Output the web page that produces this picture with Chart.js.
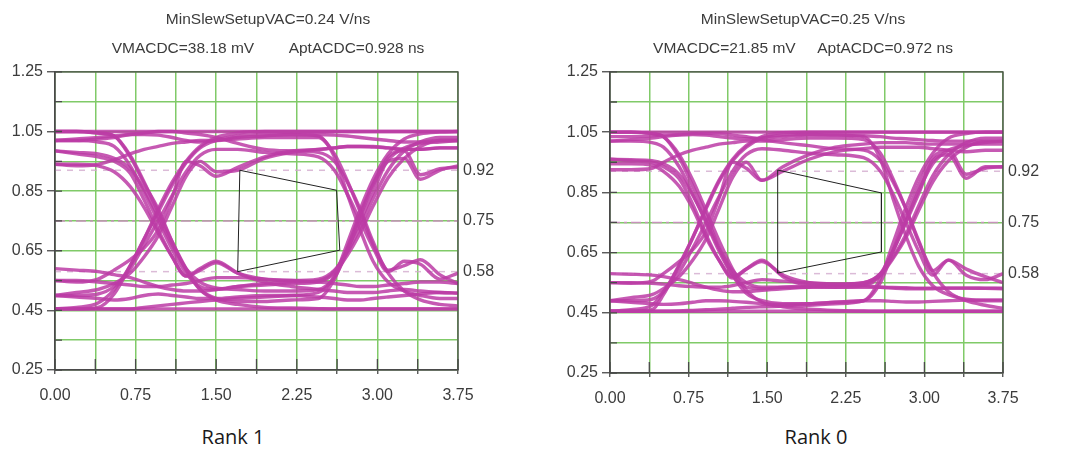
<!DOCTYPE html>
<html>
<head>
<meta charset="utf-8">
<script src="https://cdn.jsdelivr.net/npm/chart.js@4/dist/chart.umd.min.js"></script>
<style>
  body { margin: 0; background: #fff; width: 1065px; height: 449px; overflow: hidden; position: relative; }
  canvas { position: absolute; top: 0; }
  .rank { position: absolute; top: 427px; width: 200px; text-align: center;
          font: 20px/20px "Open Sans", sans-serif; color: #1a1a1a; }
</style>
</head>
<body>
<canvas id="rank1" width="536" height="405" style="left:0"></canvas>
<canvas id="rank0" width="496" height="408" style="left:555px"></canvas>
<div class="rank" style="left:133px">Rank 1</div>
<div class="rank" style="left:716px">Rank 0</div>
<script>
// tick positions
const xTicks = [0, 0.375, 0.75, 1.125, 1.5, 1.875, 2.25, 2.625, 3, 3.375, 3.75];
const yTicks = [0.25, 0.35, 0.45, 0.55, 0.65, 0.75, 0.85, 0.95, 1.05, 1.15, 1.25];
const levelTicks = [0.58, 0.75, 0.92];

// time samples (ns) of every trace, one list per plot
const xsRank1 = [0, 0.2, 0.4, 0.55, 0.7, 0.83, 0.96, 1.09, 1.22, 1.35, 1.5, 1.7, 1.95, 2.2, 2.45, 2.6, 2.72, 2.84, 2.96, 3.1, 3.25, 3.4, 3.58, 3.75];
const xsRank0 = [0, 0.2, 0.4, 0.51, 0.66, 0.79, 0.916, 1.04, 1.17, 1.3, 1.45, 1.65, 1.9, 2.15, 2.42, 2.58, 2.7, 2.824, 2.945, 3.08, 3.23, 3.4, 3.58, 3.75];

// voltage traces (V)
const rank1Traces = [
  [1.05, 1.05, 1.05, 1.05, 1.05, 1.05, 1.05, 1.05, 1.05, 1.05, 1.05, 1.05, 1.05, 1.05, 1.05, 1.05, 1.05, 1.05, 1.05, 1.05, 1.05, 1.05, 1.05, 1.05],
  [0.455, 0.455, 0.455, 0.455, 0.455, 0.455, 0.455, 0.455, 0.455, 0.455, 0.455, 0.455, 0.455, 0.455, 0.455, 0.455, 0.455, 0.455, 0.455, 0.455, 0.455, 0.455, 0.455, 0.455],
  [1.02, 1.025, 1.03, 1.035, 1.04, 1.04, 1.038, 1.03, 1.02, 1.015, 1.02, 1.03, 1.035, 1.04, 1.04, 1.038, 1.035, 1.03, 1.025, 1.02, 1.015, 1.015, 1.02, 1.02],
  [0.50, 0.495, 0.49, 0.485, 0.49, 0.50, 0.505, 0.50, 0.495, 0.49, 0.49, 0.495, 0.50, 0.50, 0.495, 0.49, 0.485, 0.485, 0.49, 0.495, 0.50, 0.505, 0.51, 0.508],
  [0.455, 0.455, 0.46, 0.505, 0.60, 0.69, 0.79, 0.88, 0.95, 1.0, 1.03, 1.045, 1.05, 1.05, 1.05, 1.05, 1.05, 1.05, 1.05, 1.05, 1.05, 1.05, 1.05, 1.05],
  [0.55, 0.545, 0.555, 0.585, 0.62, 0.66, 0.72, 0.83, 0.95, 0.935, 0.90, 0.93, 0.965, 0.985, 0.99, 0.995, 1.0, 1.0, 0.998, 0.995, 0.99, 0.99, 0.995, 0.995],
  [0.50, 0.50, 0.505, 0.53, 0.59, 0.67, 0.75, 0.835, 0.915, 0.97, 0.99, 0.99, 0.98, 0.975, 0.965, 0.92, 0.84, 0.75, 0.66, 0.58, 0.615, 0.605, 0.555, 0.575],
  [0.985, 0.975, 0.965, 0.95, 0.91, 0.82, 0.72, 0.63, 0.565, 0.59, 0.615, 0.575, 0.545, 0.53, 0.52, 0.515, 0.51, 0.51, 0.51, 0.515, 0.52, 0.515, 0.51, 0.508],
  [1.05, 1.05, 1.045, 1.035, 0.97, 0.88, 0.78, 0.68, 0.59, 0.52, 0.485, 0.47, 0.46, 0.458, 0.456, 0.455, 0.455, 0.455, 0.455, 0.455, 0.455, 0.455, 0.455, 0.455],
  [1.02, 1.02, 1.015, 1.0, 0.935, 0.845, 0.75, 0.655, 0.575, 0.53, 0.52, 0.53, 0.54, 0.545, 0.55, 0.58, 0.655, 0.75, 0.845, 0.95, 0.96, 0.89, 0.92, 0.935],
  [0.94, 0.935, 0.94, 0.955, 0.975, 0.99, 1.0, 1.01, 1.015, 1.02, 1.02, 1.025, 1.03, 1.03, 1.03, 0.975, 0.885, 0.78, 0.67, 0.575, 0.515, 0.485, 0.47, 0.465],
  [0.59, 0.585, 0.58, 0.57, 0.56, 0.545, 0.53, 0.52, 0.515, 0.515, 0.52, 0.53, 0.535, 0.54, 0.545, 0.575, 0.635, 0.71, 0.80, 0.895, 0.96, 1.0, 1.02, 1.02],
  [0.50, 0.51, 0.52, 0.54, 0.575, 0.63, 0.70, 0.80, 0.90, 0.95, 0.915, 0.92, 0.96, 0.98, 0.99, 0.995, 1.0, 1.0, 1.0, 0.995, 0.99, 0.99, 0.995, 0.995],
  [0.455, 0.455, 0.455, 0.455, 0.455, 0.46, 0.465, 0.47, 0.475, 0.48, 0.485, 0.49, 0.495, 0.50, 0.51, 0.565, 0.675, 0.79, 0.89, 0.975, 1.025, 1.042, 1.048, 1.05],
  [0.94, 0.94, 0.935, 0.915, 0.865, 0.795, 0.71, 0.63, 0.565, 0.585, 0.61, 0.575, 0.555, 0.55, 0.555, 0.585, 0.645, 0.73, 0.825, 0.92, 0.985, 1.015, 1.03, 1.03],
  [0.455, 0.46, 0.475, 0.52, 0.60, 0.69, 0.78, 0.87, 0.945, 0.995, 1.02, 1.035, 1.04, 1.04, 1.035, 0.965, 0.84, 0.72, 0.615, 0.545, 0.515, 0.50, 0.49, 0.49],
  [1.02, 1.02, 1.025, 1.03, 1.04, 1.045, 1.05, 1.05, 1.045, 1.04, 1.03, 1.01, 0.99, 0.985, 0.98, 0.95, 0.88, 0.79, 0.68, 0.585, 0.60, 0.62, 0.57, 0.54],
  [0.55, 0.55, 0.545, 0.54, 0.535, 0.53, 0.53, 0.535, 0.54, 0.55, 0.56, 0.56, 0.555, 0.55, 0.545, 0.54, 0.535, 0.53, 0.53, 0.535, 0.54, 0.545, 0.545, 0.54],
  [1.05, 1.05, 1.045, 1.035, 0.965, 0.875, 0.79, 0.68, 0.585, 0.52, 0.49, 0.48, 0.48, 0.485, 0.49, 0.555, 0.66, 0.775, 0.875, 0.965, 0.985, 0.905, 0.925, 0.93],
  [0.985, 0.98, 0.975, 0.96, 0.925, 0.855, 0.765, 0.67, 0.59, 0.545, 0.525, 0.52, 0.515, 0.515, 0.52, 0.56, 0.65, 0.765, 0.87, 0.955, 0.995, 1.01, 1.015, 1.02]
];

const rank0Traces = [
  [1.05, 1.05, 1.05, 1.05, 1.05, 1.05, 1.05, 1.05, 1.05, 1.05, 1.05, 1.05, 1.05, 1.05, 1.05, 1.05, 1.05, 1.05, 1.05, 1.05, 1.05, 1.05, 1.05, 1.05],
  [0.455, 0.455, 0.455, 0.455, 0.455, 0.455, 0.455, 0.455, 0.455, 0.455, 0.455, 0.455, 0.455, 0.455, 0.455, 0.455, 0.455, 0.455, 0.455, 0.455, 0.455, 0.455, 0.455, 0.455],
  [1.02, 1.025, 1.03, 1.035, 1.04, 1.042, 1.04, 1.035, 1.03, 1.028, 1.03, 1.035, 1.04, 1.04, 1.038, 1.035, 1.03, 1.028, 1.025, 1.022, 1.02, 1.02, 1.02, 1.02],
  [0.49, 0.485, 0.48, 0.478, 0.48, 0.485, 0.49, 0.49, 0.488, 0.485, 0.48, 0.478, 0.48, 0.485, 0.49, 0.49, 0.488, 0.486, 0.486, 0.488, 0.49, 0.492, 0.493, 0.493],
  [0.455, 0.455, 0.46, 0.51, 0.61, 0.70, 0.80, 0.89, 0.96, 1.005, 1.035, 1.048, 1.05, 1.05, 1.05, 1.05, 1.05, 1.05, 1.05, 1.05, 1.05, 1.05, 1.05, 1.05],
  [0.55, 0.548, 0.555, 0.58, 0.62, 0.66, 0.72, 0.83, 0.95, 0.93, 0.89, 0.935, 0.975, 1.0, 1.01, 1.015, 1.015, 1.015, 1.012, 1.01, 1.01, 1.01, 1.01, 1.01],
  [0.49, 0.49, 0.495, 0.52, 0.585, 0.665, 0.75, 0.835, 0.92, 0.975, 0.995, 0.99, 0.98, 0.975, 0.965, 0.92, 0.845, 0.75, 0.655, 0.575, 0.625, 0.575, 0.56, 0.58],
  [0.96, 0.955, 0.95, 0.935, 0.895, 0.81, 0.71, 0.625, 0.565, 0.595, 0.625, 0.57, 0.54, 0.535, 0.535, 0.535, 0.534, 0.533, 0.532, 0.532, 0.532, 0.532, 0.532, 0.532],
  [1.05, 1.05, 1.045, 1.035, 0.975, 0.89, 0.79, 0.69, 0.595, 0.525, 0.485, 0.47, 0.462, 0.458, 0.456, 0.455, 0.455, 0.455, 0.455, 0.455, 0.455, 0.455, 0.455, 0.455],
  [1.02, 1.02, 1.015, 1.0, 0.935, 0.845, 0.75, 0.655, 0.575, 0.535, 0.53, 0.535, 0.54, 0.545, 0.55, 0.58, 0.655, 0.75, 0.845, 0.955, 0.975, 0.897, 0.935, 0.935],
  [0.925, 0.925, 0.93, 0.95, 0.975, 0.99, 1.0, 1.01, 1.015, 1.02, 1.02, 1.025, 1.03, 1.03, 1.025, 0.98, 0.895, 0.795, 0.685, 0.585, 0.52, 0.49, 0.475, 0.465],
  [0.58, 0.578, 0.575, 0.57, 0.56, 0.548, 0.535, 0.525, 0.52, 0.52, 0.525, 0.53, 0.535, 0.54, 0.545, 0.575, 0.63, 0.70, 0.79, 0.885, 0.955, 1.0, 1.02, 1.02],
  [0.49, 0.50, 0.51, 0.53, 0.57, 0.625, 0.695, 0.795, 0.90, 0.95, 0.89, 0.92, 0.96, 0.985, 0.995, 1.0, 1.0, 1.0, 1.0, 0.995, 0.99, 0.985, 0.99, 0.99],
  [0.455, 0.455, 0.455, 0.455, 0.456, 0.458, 0.46, 0.462, 0.465, 0.468, 0.47, 0.472, 0.475, 0.48, 0.49, 0.565, 0.68, 0.80, 0.90, 0.98, 1.03, 1.045, 1.05, 1.05],
  [0.945, 0.945, 0.94, 0.92, 0.87, 0.795, 0.70, 0.625, 0.57, 0.595, 0.62, 0.575, 0.55, 0.545, 0.55, 0.58, 0.635, 0.71, 0.805, 0.905, 0.975, 1.015, 1.03, 1.03],
  [0.455, 0.46, 0.475, 0.52, 0.605, 0.70, 0.795, 0.885, 0.955, 1.0, 1.03, 1.04, 1.042, 1.04, 1.035, 0.96, 0.83, 0.705, 0.605, 0.54, 0.51, 0.495, 0.49, 0.49],
  [1.035, 1.035, 1.038, 1.04, 1.042, 1.045, 1.045, 1.045, 1.04, 1.035, 1.025, 1.015, 1.005, 0.995, 0.99, 0.955, 0.885, 0.795, 0.69, 0.59, 0.625, 0.595, 0.57, 0.55],
  [0.55, 0.55, 0.548, 0.545, 0.54, 0.537, 0.535, 0.535, 0.54, 0.55, 0.56, 0.555, 0.55, 0.545, 0.54, 0.535, 0.532, 0.53, 0.53, 0.53, 0.532, 0.532, 0.531, 0.53],
  [1.05, 1.05, 1.045, 1.035, 0.965, 0.87, 0.775, 0.665, 0.575, 0.515, 0.49, 0.48, 0.48, 0.485, 0.49, 0.55, 0.655, 0.77, 0.875, 0.965, 0.99, 0.91, 0.93, 0.935],
  [0.96, 0.958, 0.955, 0.945, 0.91, 0.84, 0.755, 0.665, 0.59, 0.55, 0.535, 0.535, 0.535, 0.535, 0.54, 0.575, 0.655, 0.755, 0.855, 0.945, 0.99, 1.005, 1.015, 1.02]
];

// eye aperture polygons
const rank1ApertureX = [1.72, 2.62, 2.65, 1.70, 1.72];
const rank1ApertureY = [0.92, 0.853, 0.652, 0.58, 0.92];
const rank0ApertureX = [1.60, 2.59, 2.59, 1.60, 1.60];
const rank0ApertureY = [0.924, 0.848, 0.652, 0.582, 0.924];

const rank1Title = ['MinSlewSetupVAC=0.24 V/ns', 'VMACDC=38.18 mV        AptACDC=0.928 ns'];
const rank0Title = ['MinSlewSetupVAC=0.25 V/ns', 'VMACDC=21.85 mV     AptACDC=0.972 ns'];

const TRACE = 'rgba(188, 60, 166, 0.85)';
const GRID = 'rgb(128, 202, 104)';
const FRAME = '#4a4a4a';
const TEXT = '#3c3c3c';
const FONT = 'Liberation Sans, Arial, sans-serif';

// frame box and the short inner tick marks
const eyeFrame = {
  id: 'eyeFrame',
  afterDatasetsDraw(chart) {
    const { ctx, chartArea: a, scales } = chart;
    ctx.save();
    ctx.strokeStyle = FRAME;
    ctx.lineWidth = 1.3;
    ctx.strokeRect(a.left, a.top, a.right - a.left, a.bottom - a.top);
    ctx.beginPath();
    scales.x.ticks.forEach(t => {
      const px = scales.x.getPixelForValue(t.value);
      ctx.moveTo(px, a.bottom);
      ctx.lineTo(px, a.bottom - 11);
    });
    scales.y.ticks.forEach(t => {
      const py = scales.y.getPixelForValue(t.value);
      ctx.moveTo(a.left, py);
      ctx.lineTo(a.left + 7, py);
    });
    ctx.stroke();
    ctx.restore();
  }
};

function levelLine(y, dash, color) {
  return {
    data: [{ x: 0, y }, { x: 3.75, y }],
    borderColor: color,
    borderWidth: 1.5,
    borderDash: dash,
    pointRadius: 0,
    order: 3
  };
}

function makeEye(id, xs, traces, apX, apY, title, rightWidth) {
  const datasets = traces.map(tr => ({
    data: tr.map((v, i) => ({ x: xs[i], y: v })),
    borderColor: TRACE,
    borderWidth: 3.4,
    pointRadius: 0,
    tension: 0.4,
    cubicInterpolationMode: 'monotone',
    order: 1
  }));
  datasets.push(levelLine(0.75, [10, 4, 3, 4], 'rgba(205, 140, 195, 0.9)'));
  datasets.push(levelLine(0.92, [6, 6], 'rgba(210, 170, 205, 0.8)'));
  datasets.push(levelLine(0.58, [6, 6], 'rgba(210, 170, 205, 0.8)'));
  datasets.push({
    data: apX.map((x, i) => ({ x, y: apY[i] })),
    borderColor: '#222',
    borderWidth: 1,
    pointRadius: 0,
    tension: 0,
    order: 0
  });

  return new Chart(document.getElementById(id), {
    type: 'line',
    data: { datasets },
    plugins: [eyeFrame],
    options: {
      responsive: false,
      animation: false,
      layout: { padding: 0 },
      plugins: {
        legend: { display: false },
        tooltip: { enabled: false },
        title: {
          display: true,
          text: title,
          color: TEXT,
          font: { family: FONT, size: 15.5, weight: 'normal', lineHeight: 1.9 },
          padding: { top: 5, bottom: 8 }
        }
      },
      scales: {
        x: {
          type: 'linear',
          min: 0,
          max: 3.75,
          afterBuildTicks: s => { s.ticks = xTicks.map(v => ({ value: v })); },
          afterFit: s => { s.height = 35; },
          ticks: {
            color: TEXT,
            font: { family: FONT, size: 16 },
            padding: 12,
            maxRotation: 0,
            autoSkip: false,
            callback: (v, i) => (i % 2 === 0 ? v.toFixed(2) : '')
          },
          grid: { color: GRID, lineWidth: 1.5, tickLength: 4, tickColor: FRAME, tickWidth: 1.3 },
          border: { color: FRAME, width: 1.3 }
        },
        y: {
          min: 0.25,
          max: 1.25,
          afterBuildTicks: s => { s.ticks = yTicks.map(v => ({ value: v })); },
          afterFit: s => { s.width = 55; },
          ticks: {
            color: TEXT,
            font: { family: FONT, size: 16 },
            padding: 4,
            autoSkip: false,
            callback: (v, i) => (i % 2 === 0 ? v.toFixed(2) : '')
          },
          grid: {
            color: GRID,
            lineWidth: 1.5,
            tickLength: 8,
            tickWidth: 1.3,
            tickColor: c => (c.index % 2 === 0 ? FRAME : 'rgba(0,0,0,0)')
          },
          border: { color: FRAME, width: 1.3 }
        },
        level: {
          position: 'right',
          min: 0.25,
          max: 1.25,
          afterBuildTicks: s => { s.ticks = levelTicks.map(v => ({ value: v })); },
          afterFit: s => { s.width = rightWidth; },
          ticks: {
            color: TEXT,
            font: { family: FONT, size: 16 },
            padding: 5,
            autoSkip: false,
            callback: v => v.toFixed(2)
          },
          grid: { display: false, drawTicks: false },
          border: { display: false }
        }
      }
    }
  });
}

makeEye('rank1', xsRank1, rank1Traces, rank1ApertureX, rank1ApertureY, rank1Title, 78);
makeEye('rank0', xsRank0, rank0Traces, rank0ApertureX, rank0ApertureY, rank0Title, 48);
</script>
</body>
</html>
